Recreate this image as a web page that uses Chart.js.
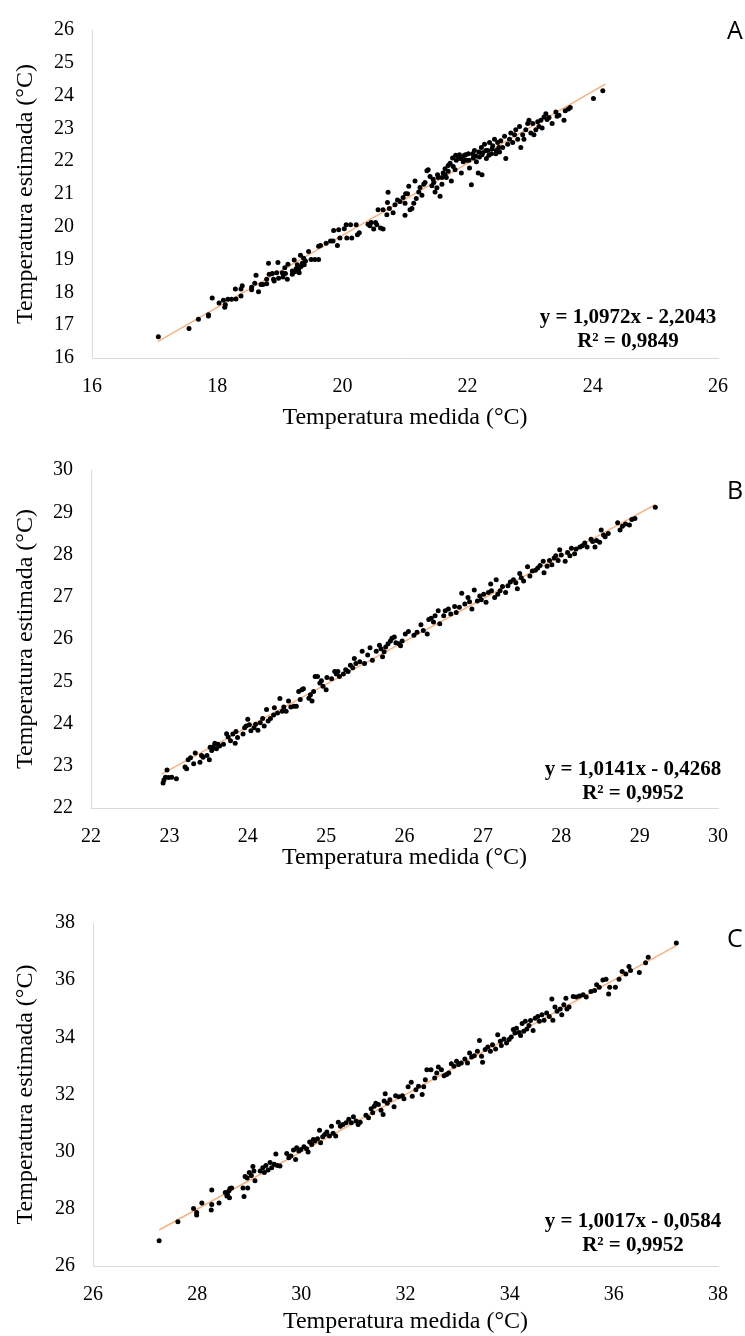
<!DOCTYPE html>
<html>
<head>
<meta charset="utf-8">
<script src="https://cdn.jsdelivr.net/npm/chart.js@4.4.1/dist/chart.umd.min.js"></script>
<style>
  body { margin: 0; background: #ffffff; }
  .box { position: absolute; left: 0; width: 745px; }
</style>
</head>
<body>
<div class="box" style="top:0;height:440px"><canvas id="chartA"></canvas></div>
<div class="box" style="top:440px;height:440px"><canvas id="chartB"></canvas></div>
<div class="box" style="top:880px;height:456px"><canvas id="chartC"></canvas></div>
<script>
// --- Painel A ---
const medidaA = [17.06,17.55,17.70,17.86,17.86,17.92,18.03,18.12,18.13,18.10,18.17,18.23,18.30,18.38,18.29,18.38,18.40,18.55,18.55,18.60,
  18.62,18.66,18.70,18.73,18.79,18.79,18.82,18.83,18.88,18.90,18.91,18.97,18.95,18.98,19.04,19.05,19.08,19.09,19.13,19.12,
  19.20,19.20,19.23,19.24,19.26,19.28,19.30,19.31,19.33,19.34,19.36,19.38,19.39,19.41,19.46,19.50,19.56,19.62,19.62,19.65,
  19.74,19.81,19.85,19.92,19.96,19.86,19.94,20.03,20.06,20.13,20.22,20.07,20.15,20.24,20.27,20.41,20.44,20.50,20.55,20.61,
  20.65,20.53,20.46,20.57,20.65,20.71,20.72,20.75,20.81,20.84,20.88,20.92,20.97,21.00,21.01,21.00,20.73,
  21.04,21.06,21.08,21.11,21.14,21.16,21.18,21.22,21.24,21.27,21.30,21.32,21.35,21.37,21.40,21.43,21.45,21.48,21.51,21.53,
  21.56,21.59,21.61,21.64,21.66,21.69,21.72,21.74,21.77,21.80,21.82,21.85,21.88,21.90,21.93,21.95,21.98,22.01,22.03,22.06,
  22.09,22.11,22.14,22.17,22.19,22.22,22.23,22.24,22.27,22.30,22.32,22.35,22.38,22.40,22.43,22.46,22.48,22.51,22.53,22.56,
  22.59,22.61,22.64,22.67,22.69,22.72,22.75,22.77,22.80,22.83,22.85,22.88,22.90,22.93,22.96,22.98,23.01,23.04,23.06,23.09,
  23.12,23.14,23.17,23.19,23.22,23.25,23.27,23.30,23.35,23.41,23.46,23.43,23.54,23.56,23.61,23.64,24.01,24.16,
  21.76,21.81,21.87,21.92,21.97,22.02,22.08,22.13,22.18,22.23,22.29,22.34,22.39,22.45,22.50,21.64,21.69,21.59,21.52,21.46];
const estimadaA = [16.65,16.90,17.18,17.32,17.28,17.83,17.68,17.55,17.62,17.76,17.79,17.79,17.80,17.89,18.10,18.10,18.20,18.16,18.08,18.28,
  18.52,18.02,18.24,18.24,18.26,18.40,18.89,18.55,18.58,18.40,18.35,18.91,18.60,18.43,18.60,18.47,18.75,18.58,18.86,18.40,
  18.65,18.55,18.99,18.63,18.72,18.84,18.70,18.60,19.13,18.79,18.89,19.04,18.84,18.96,19.25,19.00,19.00,19.00,19.41,19.43,
  19.50,19.57,19.57,19.43,19.66,19.89,19.91,19.94,20.06,20.06,20.06,19.66,19.66,19.76,19.82,20.08,20.03,19.93,20.06,19.96,
  19.93,20.13,20.13,20.52,20.52,20.37,20.74,20.56,20.43,20.67,20.82,20.77,20.89,20.72,21.01,20.35,21.05,
  21.01,21.24,20.52,20.56,20.72,21.40,20.86,21.06,21.20,20.96,21.30,21.35,21.71,21.74,21.53,21.25,21.45,21.06,21.19,21.50,
  20.93,21.30,21.64,21.77,21.50,21.87,21.94,21.40,21.84,21.74,22.03,22.13,22.08,21.64,21.98,22.18,22.03,22.23,21.79,21.28,
  22.10,22.33,21.98,21.64,22.13,22.42,21.59,22.26,22.52,22.08,22.33,22.57,22.23,22.47,22.67,22.33,22.57,22.28,22.62,22.42,
  22.76,22.08,22.52,22.67,22.86,22.57,22.81,22.96,22.67,23.06,22.42,22.81,22.67,22.96,23.15,23.25,22.86,23.15,22.81,22.96,
  23.20,23.06,23.25,23.01,23.35,23.45,23.27,23.33,23.15,23.50,23.40,23.37,23.25,23.54,23.59,23.64,23.91,24.15,
  22.10,22.18,22.20,22.08,22.20,22.03,22.23,22.16,22.28,22.20,22.33,22.18,22.37,22.23,22.42,21.59,21.69,21.50,21.59,21.35];
const tendenciaA = [[17.05, 16.50], [24.20, 24.35]];

// --- Painel B ---
const medidaB = [22.92,22.93,22.95,22.97,22.99,23.03,23.09,23.20,23.22,23.24,23.27,23.31,23.33,23.39,23.41,23.43,23.48,23.51,23.52,23.54,
  23.56,23.58,23.60,23.62,23.64,23.69,23.73,23.75,23.78,23.81,23.84,23.85,23.87,23.94,23.96,23.98,24.00,24.02,24.04,24.08,
  24.10,24.13,24.16,24.19,24.21,24.24,24.26,24.29,24.33,24.34,24.38,24.41,24.44,24.46,24.49,24.52,24.55,24.59,24.62,24.65,
  24.67,24.69,24.71,24.78,24.80,24.82,24.84,24.86,24.89,24.92,24.94,24.96,25.00,25.01,25.07,25.11,25.13,25.15,25.17,25.22,
  25.25,25.28,25.31,25.34,25.36,25.38,25.43,25.46,25.49,25.53,25.56,25.59,25.64,25.68,25.70,25.72,25.74,25.76,25.79,25.82,
  25.84,25.87,25.89,25.93,25.95,25.97,
  26.01,26.05,26.12,26.16,26.21,26.24,26.29,26.31,26.34,26.37,26.39,26.43,26.45,26.50,26.52,26.56,26.59,26.64,26.66,26.70,
  26.73,26.77,26.81,26.83,26.86,26.89,26.93,26.96,26.98,27.01,27.04,27.07,27.10,27.11,27.15,27.17,27.19,27.22,27.25,27.29,
  27.32,27.35,27.39,27.42,27.44,27.47,27.49,27.52,27.57,27.60,27.63,27.67,27.70,27.73,27.77,27.78,27.82,27.85,27.88,27.91,
  27.93,27.96,27.98,28.00,28.05,28.08,28.11,28.13,28.17,28.19,28.24,28.27,28.30,28.33,28.38,28.40,28.43,28.45,28.49,28.51,
  28.54,28.56,28.60,28.72,28.75,28.78,28.82,28.87,28.90,28.94,29.20];
const estimadaB = [22.59,22.66,22.73,22.90,22.72,22.73,22.69,22.97,22.93,23.14,23.19,23.05,23.30,23.08,23.24,23.20,23.24,23.14,23.44,23.36,
  23.45,23.53,23.40,23.51,23.47,23.51,23.76,23.68,23.59,23.75,23.53,23.81,23.67,23.75,23.90,23.94,24.10,23.97,23.83,23.90,
  23.98,23.84,24.02,24.12,23.94,24.33,24.06,24.12,24.20,24.37,24.25,24.59,24.29,24.39,24.29,24.53,24.39,24.41,24.41,24.76,
  24.57,24.80,24.82,24.60,24.68,24.53,24.76,25.11,25.11,24.96,25.01,24.88,24.80,25.09,25.06,25.23,25.17,25.23,25.11,25.17,
  25.27,25.23,25.38,25.32,25.54,25.42,25.46,25.71,25.42,25.62,25.79,25.50,25.71,25.85,25.77,25.58,25.70,25.81,25.89,25.95,
  26.02,26.05,25.91,25.89,25.84,25.95,
  26.12,26.18,26.09,26.16,26.34,26.20,26.12,26.46,26.49,26.40,26.55,26.67,26.36,26.55,26.67,26.71,26.59,26.77,26.63,26.75,
  27.08,26.83,26.98,26.88,26.71,27.16,26.90,27.02,26.93,27.06,26.87,27.10,27.30,27.14,26.98,27.40,27.06,27.14,27.24,27.10,
  27.26,27.35,27.40,27.33,27.19,27.55,27.45,27.37,27.71,27.49,27.61,27.63,27.68,27.74,27.84,27.57,27.72,27.86,27.76,27.92,
  27.97,27.86,28.11,27.99,27.84,28.05,27.97,28.15,28.02,28.13,28.18,28.21,28.27,28.18,28.36,28.31,28.18,28.33,28.29,28.58,
  28.46,28.42,28.50,28.75,28.58,28.67,28.72,28.70,28.83,28.85,29.12];
const tendenciaB = [[22.90, 22.80], [29.20, 29.18]];

// --- Painel C ---
const medidaC = [27.27,27.63,27.93,27.99,27.99,28.09,28.28,28.28,28.27,28.42,28.54,28.58,28.61,28.63,28.66,28.62,28.57,28.88,28.97,28.90,
  28.92,28.96,29.00,29.07,29.09,29.11,29.04,29.21,29.26,29.29,29.32,29.36,29.40,29.43,29.48,29.51,29.54,29.59,
  29.72,29.76,29.80,29.85,29.89,29.91,29.95,29.99,30.05,30.10,30.13,30.16,30.20,30.23,30.26,30.31,30.35,30.37,30.41,30.45,
  30.49,30.54,30.58,30.61,30.66,30.71,30.75,30.80,30.86,30.91,30.96,31.00,31.05,31.09,31.13,31.24,31.29,31.34,31.37,31.40,
  31.43,31.48,31.53,31.57,31.59,31.61,31.65,31.70,31.78,31.81,31.87,31.94,31.97,
  32.05,32.13,32.11,32.20,32.25,32.32,32.35,32.38,32.41,32.49,32.56,32.60,32.63,32.69,32.74,32.79,32.83,32.88,32.93,32.98,
  33.02,33.07,33.14,33.19,33.23,33.27,33.32,33.38,33.42,33.46,33.48,33.53,33.58,33.63,33.67,33.73,33.77,33.82,33.84,33.89,
  33.94,33.99,34.03,34.07,34.10,34.13,34.18,34.21,34.24,34.27,34.30,34.33,34.37,34.40,34.45,34.49,34.54,34.57,34.62,34.66,
  34.71,34.76,34.81,34.83,34.87,34.91,34.97,35.00,35.04,35.08,35.10,35.14,35.22,35.28,35.34,35.41,35.47,35.56,35.63,35.67,
  35.72,35.79,35.85,35.90,35.92,36.03,36.10,36.16,36.23,36.29,36.32,36.49,36.61,36.66,37.20];
const estimadaC = [26.88,27.55,28.01,27.87,27.78,28.20,28.66,28.15,27.96,28.20,28.57,28.51,28.63,28.71,28.73,28.39,28.45,28.73,28.73,28.43,
  29.13,29.08,29.27,29.48,29.32,28.98,29.17,29.32,29.44,29.27,29.52,29.36,29.62,29.44,29.56,29.92,29.52,29.50,
  29.94,29.79,29.85,30.06,29.73,30.14,30.02,30.08,30.17,30.10,29.99,30.34,30.25,30.43,30.37,30.45,30.75,30.31,30.52,30.60,
  30.69,30.55,30.89,30.64,30.55,31.03,30.89,30.95,31.01,31.13,31.01,31.22,31.07,30.95,31.03,31.27,31.19,31.50,31.36,31.59,
  31.69,31.65,31.45,31.30,31.77,32.03,31.69,31.82,31.57,31.96,31.92,31.96,31.85,
  32.27,31.94,32.43,32.17,32.29,32.00,32.27,32.52,32.87,32.87,32.58,32.75,32.96,32.87,32.66,32.70,32.75,33.08,32.99,33.16,
  33.05,33.10,33.24,33.10,33.45,33.31,33.36,33.51,33.89,33.34,33.13,33.57,33.66,33.51,33.74,33.59,34.09,33.86,33.71,33.94,
  33.80,33.92,34.01,34.27,34.15,34.32,34.17,34.06,34.48,34.21,34.56,34.29,34.41,34.59,34.24,34.67,34.73,34.56,34.79,34.60,
  34.85,34.73,35.34,34.60,35.06,34.91,34.99,34.79,35.14,35.37,34.99,35.06,35.43,35.41,35.45,35.49,35.41,35.60,35.64,35.84,
  35.75,36.01,36.03,35.52,35.75,35.75,36.03,36.30,36.22,36.48,36.34,36.27,36.61,36.80,37.30];
const tendenciaC = [[27.27, 27.26], [37.20, 37.21]];

const serif = 'Liberation Serif, Times New Roman, serif';

function makeChart(id, medida, estimada, tendencia, cfg) {
  const pontos = medida.map((x, i) => ({ x: x, y: estimada[i] }));
  const linha = tendencia.map(p => ({ x: p[0], y: p[1] }));

  // equação da tendência e letra do painel
  const textos = {
    id: 'textos',
    afterDraw(chart) {
      const ctx = chart.ctx;
      ctx.save();
      ctx.fillStyle = '#000';
      ctx.textBaseline = 'middle';
      ctx.textAlign = 'center';
      ctx.font = 'bold 21px ' + serif;
      ctx.fillText(cfg.eq, cfg.eqX, cfg.eqY);
      ctx.fillText(cfg.r2, cfg.eqX, cfg.eqY + 24);
      ctx.textAlign = 'left';
      ctx.font = '25px Open Sans, sans-serif';
      ctx.fillText(cfg.letra, 727, cfg.letraY);
      ctx.restore();
    }
  };

  return new Chart(document.getElementById(id), {
    type: 'scatter',
    data: {
      datasets: [
        { data: pontos, backgroundColor: '#000000', borderWidth: 0, pointRadius: 2.5, order: 1 },
        { data: linha, showLine: true, borderColor: '#f4b183', borderWidth: 1.5, pointRadius: 0, order: 2 }
      ]
    },
    options: {
      responsive: true,
      maintainAspectRatio: false,
      animation: false,
      layout: { padding: { left: 0, right: cfg.right, top: cfg.top, bottom: 0 } },
      plugins: { legend: { display: false }, tooltip: { enabled: false } },
      scales: {
        x: {
          type: 'linear', min: cfg.xmin, max: cfg.xmax,
          ticks: { stepSize: cfg.step, padding: 17, color: '#000', font: { family: serif, size: 20 } },
          grid: { display: false, drawTicks: false },
          border: { color: '#d9d9d9' },
          title: { display: true, text: 'Temperatura medida (°C)', color: '#000',
                   font: { family: serif, size: 24 }, padding: { top: 0, bottom: cfg.titleBottom } },
          afterFit: s => { s.height = cfg.xh; }
        },
        y: {
          type: 'linear', min: cfg.ymin, max: cfg.ymax,
          ticks: { stepSize: cfg.ystep, padding: 18, color: '#000', font: { family: serif, size: 20 } },
          grid: { display: false, drawTicks: false },
          border: { color: '#d9d9d9' },
          title: { display: true, text: 'Temperatura estimada (°C)', color: '#000',
                   font: { family: serif, size: 24 }, padding: { top: 11, bottom: 0 } },
          afterFit: s => { s.width = cfg.left; }
        }
      }
    },
    plugins: [textos]
  });
}

makeChart('chartA', medidaA, estimadaA, tendenciaA, {
  xmin: 16, xmax: 26, step: 2, ymin: 16, ymax: 26, ystep: 1,
  left: 92, right: 21, top: 16, xh: 82, titleBottom: 8,
  eq: 'y = 1,0972x - 2,2043', r2: 'R² = 0,9849', eqX: 628, eqY: 318,
  letra: 'A', letraY: 32
});

makeChart('chartB', medidaB, estimadaB, tendenciaB, {
  xmin: 22, xmax: 30, step: 1, ymin: 22, ymax: 30, ystep: 1,
  left: 91, right: 18, top: 26, xh: 72, titleBottom: 8,
  eq: 'y = 1,0141x - 0,4268', r2: 'R² = 0,9952', eqX: 633, eqY: 330,
  letra: 'B', letraY: 52
});

makeChart('chartC', medidaC, estimadaC, tendenciaC, {
  xmin: 26, xmax: 38, step: 2, ymin: 26, ymax: 38, ystep: 2,
  left: 93, right: 18, top: 43, xh: 70, titleBottom: 0,
  eq: 'y = 1,0017x - 0,0584', r2: 'R² = 0,9952', eqX: 633, eqY: 342,
  letra: 'C', letraY: 60
});
</script>
</body>
</html>
